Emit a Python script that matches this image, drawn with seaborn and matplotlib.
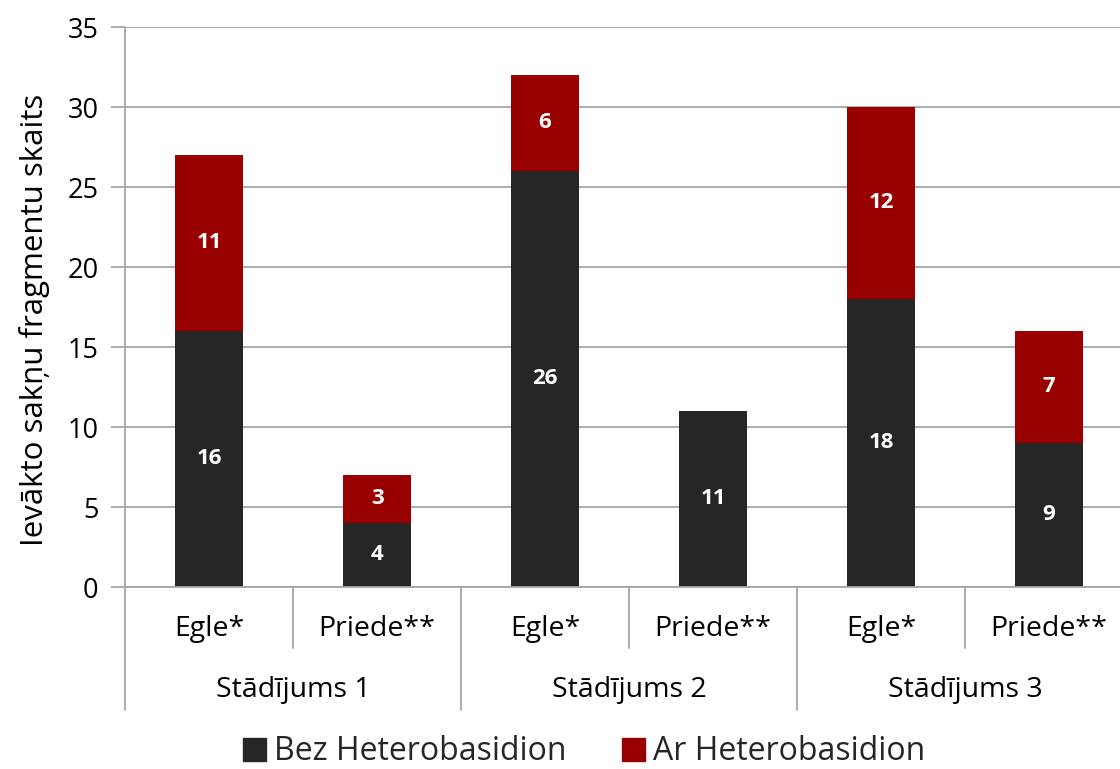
import matplotlib
matplotlib.use("Agg")
import matplotlib.pyplot as plt
import seaborn as sns
import pandas as pd
import numpy as np
from matplotlib.patches import Patch

groups = ["Stādījums 1", "Stādījums 2", "Stādījums 3"]
species = ["Egle*", "Priede**"]
bez = [16, 4, 26, 11, 18, 9]
ar = [11, 3, 6, 0, 12, 7]
series_names = ["Bez Heterobasidion", "Ar Heterobasidion"]
ylabel = "Ievākto sakņu fragmentu skaits"
yticks = [0, 5, 10, 15, 20, 25, 30, 35]

DARK = "#262626"
RED = "#990000"
GRID = "#a6a6a6"

sns.set_theme(style="white")
plt.rcParams["font.family"] = ["Open Sans", "DejaVu Sans"]

cats = [f"{g}|{s}" for g in groups for s in species]
df = pd.DataFrame({"cat": cats, "bez": bez, "ar": ar})
df["total"] = df["bez"] + df["ar"]

W, H = 1120, 769
fig = plt.figure(figsize=(W / 100, H / 100), dpi=100)
ax = fig.add_axes([125 / W, (H - 587) / H, 1008 / W, 560 / H])

sns.barplot(data=df, x="cat", y="total", order=cats, color=RED, width=0.405,
            saturation=1, ax=ax, linewidth=0)
sns.barplot(data=df, x="cat", y="bez", order=cats, color=DARK, width=0.405,
            saturation=1, ax=ax, linewidth=0)

ax.set_xlim(-0.5, len(cats) - 0.5)
ax.set_ylim(0, 35)
ax.set_yticks(yticks)
ax.set_yticklabels([str(t) for t in yticks], fontsize=19.5, color="#000000")
ax.yaxis.grid(True, color=GRID, linewidth=1.3)
ax.set_axisbelow(True)
ax.set_xticks([])
ax.set_xlabel("")
ax.set_ylabel("")
for sp in ["top", "right", "left"]:
    ax.spines[sp].set_visible(False)
ax.spines["bottom"].set_color(GRID)
ax.spines["bottom"].set_linewidth(1.3)
ax.tick_params(axis="y", left=True, length=10, width=1.3, color=GRID, pad=9)

# data labels
for i, (b, a) in enumerate(zip(bez, ar)):
    if b > 0:
        ax.text(i, b / 2, str(b), ha="center", va="center", color="white",
                fontsize=16, fontweight="bold")
    if a > 0:
        ax.text(i, b + a / 2, str(a), ha="center", va="center", color="white",
                fontsize=16, fontweight="bold")

# multi-level category axis
trans = ax.get_xaxis_transform()
px = 1 / 560.0
ax.plot([-0.5, -0.5], [1, -123 * px], transform=trans, color=GRID, lw=1.3, clip_on=False)
for gi, g in enumerate(groups):
    left = gi * 2 - 0.5
    ax.plot([left + 2, left + 2], [0, -123 * px], transform=trans, color=GRID, lw=1.3, clip_on=False)
    ax.plot([left + 1, left + 1], [0, -61 * px], transform=trans, color=GRID, lw=1.3, clip_on=False)
    ax.text(left + 1, -103 * px, g, transform=trans, ha="center", va="center",
            fontsize=20.5, color="#000000")
    for si, s in enumerate(species):
        ax.text(left + 0.5 + si, -42 * px, s, transform=trans, ha="center", va="center",
                fontsize=20.5, color="#000000")

fig.text(35 / W, 1 - 320 / H, ylabel, rotation=90, ha="center", va="center",
         fontsize=22.5, color="#000000")

handles = [Patch(facecolor=DARK, edgecolor=DARK), Patch(facecolor=RED, edgecolor=RED)]
fig.legend(handles, series_names, loc="center", bbox_to_anchor=(584 / W, 1 - 752 / H),
           ncol=2, frameon=False, fontsize=23, handlelength=0.72, handleheight=0.72,
           handletextpad=0.25, columnspacing=1.75, borderpad=0)

fig.savefig("out.png", dpi=100)
